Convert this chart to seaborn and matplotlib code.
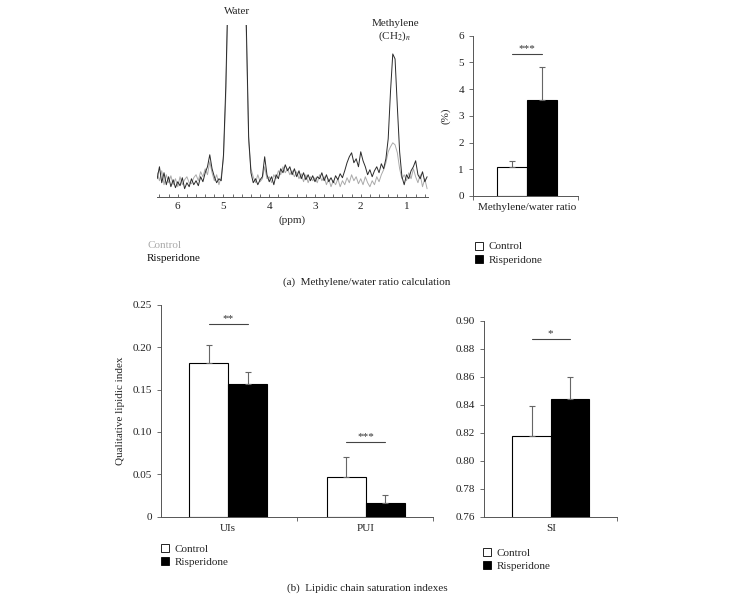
import numpy as np
import pandas as pd
import matplotlib.pyplot as plt
import seaborn as sns
from matplotlib.patches import Patch

sns.set_style("ticks")
plt.rcParams['font.family'] = ['Liberation Serif', 'DejaVu Serif']
plt.rcParams['mathtext.fontset'] = 'stix'
plt.rcParams['font.size'] = 8

groups = ['Control', 'Risperidone']
bar_colors = ['white', 'black']
axis_col = '#555555'
FS = 8

# ── spectrum (ppm vs arbitrary intensity) ───────────────────────────
ppm = [6.45, 6.40, 6.35, 6.30, 6.25, 6.20, 6.15, 6.10, 6.05, 6.00,
       5.95, 5.90, 5.85, 5.80, 5.75, 5.70, 5.65, 5.60, 5.55, 5.50,
       5.45, 5.40, 5.35, 5.30, 5.25, 5.20, 5.15, 5.10, 5.05, 5.00,
       4.95, 4.90, 4.85, 4.80, 4.75, 4.70, 4.65, 4.60, 4.55, 4.50,
       4.45, 4.40, 4.35, 4.30, 4.25, 4.20, 4.15, 4.10, 4.05, 4.00,
       3.95, 3.90, 3.85, 3.80, 3.75, 3.70, 3.65, 3.60, 3.55, 3.50,
       3.45, 3.40, 3.35, 3.30, 3.25, 3.20, 3.15, 3.10, 3.05, 3.00,
       2.95, 2.90, 2.85, 2.80, 2.75, 2.70, 2.65, 2.60, 2.55, 2.50,
       2.45, 2.40, 2.35, 2.30, 2.25, 2.20, 2.15, 2.10, 2.05, 2.00,
       1.95, 1.90, 1.85, 1.80, 1.75, 1.70, 1.65, 1.60, 1.55, 1.50,
       1.45, 1.40, 1.35, 1.30, 1.25, 1.20, 1.15, 1.10, 1.05, 1.00,
       0.95, 0.90, 0.85, 0.80, 0.75, 0.70, 0.65, 0.60, 0.55]
spec_risp = [18, 30, 14, 24, 12, 20, 10, 17, 9, 15,
             11, 19, 8, 14, 10, 18, 12, 16, 11, 20,
             15, 24, 30, 42, 28, 20, 14, 18, 16, 42,
             110, 210, 260, 270, 275, 275, 270, 265, 240, 170,
             60, 24, 14, 18, 12, 17, 20, 40, 22, 15,
             20, 12, 22, 18, 28, 24, 32, 26, 30, 22,
             28, 20, 26, 18, 24, 17, 22, 16, 21, 15,
             20, 18, 24, 16, 22, 15, 19, 14, 21, 17,
             23, 19, 26, 34, 40, 44, 34, 38, 30, 45,
             36, 30, 22, 27, 20, 26, 30, 24, 33, 28,
             38, 58, 105, 143, 138, 90, 45, 20, 12, 22,
             18, 26, 30, 36, 22, 18, 25, 15, 20]
spec_ctrl = [24, 16, 26, 12, 22, 14, 21, 12, 18, 10,
             20, 12, 17, 20, 14, 13, 19, 22, 16, 25,
             20, 28, 22, 35, 24, 16, 22, 12, 20, 38,
             100, 200, 255, 265, 270, 272, 268, 262, 235, 160,
             55, 28, 20, 14, 22, 15, 18, 30, 18, 20,
             14, 22, 18, 26, 22, 30, 24, 28, 22, 26,
             20, 25, 18, 23, 15, 22, 14, 20, 16, 19,
             14, 22, 16, 20, 12, 18, 10, 16, 12, 18,
             10, 16, 12, 19, 14, 22, 16, 20, 13, 18,
             12, 20, 14, 10, 16, 12, 20, 15, 22, 27,
             34, 45, 50, 54, 52, 44, 28, 18, 22, 16,
             24, 18, 28, 20, 14, 22, 10, 18, 8]

# ── methylene/water ratio (%) ───────────────────────────────────
ratio_cat = ['Methylene/water ratio']
ratio_mean = [1.07, 3.58]
ratio_err = [0.23, 1.24]
ratio_sig = [5.33]
ratio_stars = ['***']

# ── lipidic indexes ─────────────────────────────────────────────
idx_cat = ['UIs', 'PUI']
idx_ctrl = [0.181, 0.0465]
idx_risp = [0.156, 0.0165]
idx_ctrl_err = [0.022, 0.0235]
idx_risp_err = [0.015, 0.0095]
idx_sig = [0.227, 0.0885]
idx_stars = ['**', '***']

si_cat = ['SI']
si_mean = [0.8175, 0.8442]
si_err = [0.0215, 0.0155]
si_sig = [0.887]
si_stars = ['*']

W, H = 742, 601
fig = plt.figure(figsize=(W / 100, H / 100), dpi=100)


def px_axes(left, top, right, bottom):
    return fig.add_axes([left / W, 1 - bottom / H, (right - left) / W, (bottom - top) / H])


def style_axes(ax):
    sns.despine(ax=ax)
    for s in ['left', 'bottom']:
        ax.spines[s].set_color(axis_col)
        ax.spines[s].set_linewidth(0.7)
    ax.tick_params(colors=axis_col, labelcolor='#222222', width=0.6, length=3, labelsize=FS)


def bar_panel(ax, cats, ctrl, risp, ctrl_err, risp_err, sig, stars, width):
    df = pd.DataFrame({'cat': cats * 2,
                       'group': [groups[0]] * len(cats) + [groups[1]] * len(cats),
                       'val': list(ctrl) + list(risp)})
    sns.barplot(data=df, x='cat', y='val', hue='group', order=cats, hue_order=groups,
                palette=bar_colors, edgecolor='black', linewidth=0.8, width=width,
                gap=0, errorbar=None, legend=False, ax=ax)
    bars = sorted(ax.patches, key=lambda p: p.get_x())
    # after sorting: ctrl0, risp0, ctrl1, risp1 ...
    errs = []
    for i in range(len(cats)):
        errs += [ctrl_err[i], risp_err[i]]
    xs = [b.get_x() + b.get_width() / 2 for b in bars]
    hs = [b.get_height() for b in bars]
    ax.errorbar(xs, hs, yerr=[np.zeros(len(errs)), errs], fmt='none',
                ecolor='#666666', elinewidth=0.8, capsize=2, capthick=0.8, zorder=3)
    for i in range(len(cats)):
        x0, x1 = xs[2 * i], xs[2 * i + 1]
        ax.plot([x0, x1], [sig[i], sig[i]], color='#444444', lw=0.8)
        ax.annotate(stars[i], ((x0 + x1) / 2, sig[i]), xytext=(0, 0.5),
                    textcoords='offset points', ha='center', va='bottom', fontsize=FS,
                    color='#333333')
    ax.set_xlabel('')
    ax.set_ylabel('')
    style_axes(ax)
    ax.tick_params(axis='x', length=0, pad=5)


def bar_legend(ax, x, y):
    handles = [Patch(facecolor='white', edgecolor='black', linewidth=0.6, label=groups[0]),
               Patch(facecolor='black', edgecolor='black', linewidth=0.6, label=groups[1])]
    ax.legend(handles=handles, loc='upper left', bbox_to_anchor=(x / W, 1 - y / H),
              bbox_transform=fig.transFigure, frameon=False, handlelength=0.75,
              handleheight=0.75, handletextpad=0.5, labelspacing=0.3, borderpad=0,
              borderaxespad=0, fontsize=FS)


# ── (a) spectrum ───────────────────────────────────────────────
ax_s = px_axes(156.7, 25, 428, 196.7)
sns.lineplot(x=ppm, y=spec_ctrl, ax=ax_s, color='#aaaaaa', lw=0.7, estimator=None, sort=False)
sns.lineplot(x=ppm, y=spec_risp, ax=ax_s, color='#2a2a2a', lw=0.7, estimator=None, sort=False)
ax_s.set_xlim(6.46, 0.53)
ax_s.set_ylim(0, 172)
sns.despine(ax=ax_s, left=True)
ax_s.spines['bottom'].set_color(axis_col)
ax_s.spines['bottom'].set_linewidth(0.7)
ax_s.set_yticks([])
ax_s.set_xticks([6, 5, 4, 3, 2, 1])
ax_s.set_xticks(np.arange(0.6, 6.41, 0.2), minor=True)
ax_s.tick_params(axis='x', which='both', direction='in', length=2.5, width=0.6,
                 colors=axis_col, labelcolor='#222222', labelsize=FS, pad=4)
ax_s.set_xlabel('(ppm)', fontsize=FS, labelpad=3)
fig.text(236.7 / W, 1 - 12 / H, 'Water', ha='center', va='center', fontsize=FS)
fig.text(395 / W, 1 - 23 / H, 'Methylene', ha='center', va='center', fontsize=FS)
fig.text(395 / W, 1 - 36 / H, r'(CH$_2$)$_n$', ha='center', va='center', fontsize=FS)
fig.text(147 / W, 1 - 245 / H, 'Control', color='#aaaaaa', ha='left', va='center', fontsize=FS)
fig.text(147 / W, 1 - 258 / H, 'Risperidone', color='#111111', ha='left', va='center', fontsize=FS)

# ── (a) ratio bars ─────────────────────────────────────────────
ax_r = px_axes(473, 35.7, 578, 196)
bar_panel(ax_r, ratio_cat, ratio_mean[:1], ratio_mean[1:], ratio_err[:1], ratio_err[1:],
          ratio_sig, ratio_stars, 0.8)
ax_r.set_xlim(-0.716, 0.684)
ax_r.set_ylim(0, 6)
ax_r.set_yticks(range(0, 7))
ax_r.set_xticks([-0.716, 0.684], minor=True)
ax_r.tick_params(axis='x', which='minor', length=3, width=0.6, colors=axis_col)
ax_r.set_ylabel('(%)', fontsize=FS, labelpad=6)
bar_legend(ax_r, 475, 241.5)

fig.text(367 / W, 1 - 282 / H, '(a)  Methylene/water ratio calculation',
         ha='center', va='center', fontsize=FS, color='#222222')

# ── (b) UIs / PUI ──────────────────────────────────────────────
ax_i = px_axes(160.7, 304.7, 433.3, 516.7)
bar_panel(ax_i, idx_cat, idx_ctrl, idx_risp, idx_ctrl_err, idx_risp_err,
          idx_sig, idx_stars, 0.57)
ax_i.set_xlim(-0.49, 1.49)
ax_i.set_ylim(0, 0.25)
ax_i.set_yticks([0, 0.05, 0.10, 0.15, 0.20, 0.25])
ax_i.set_yticklabels(['0', '0.05', '0.10', '0.15', '0.20', '0.25'])
ax_i.set_xticks([0.5, 1.49], minor=True)
ax_i.tick_params(axis='x', which='minor', length=3, width=0.6, colors=axis_col)
ax_i.set_ylabel('Qualitative lipidic index', fontsize=FS, labelpad=5)
bar_legend(ax_i, 160.7, 544)

# ── (b) SI ─────────────────────────────────────────────────────
ax_si = px_axes(484, 321, 617.3, 516.7)
bar_panel(ax_si, si_cat, si_mean[:1], si_mean[1:], si_err[:1], si_err[1:],
          si_sig, si_stars, 0.8)
ax_si.set_xlim(-0.695, 0.694)
ax_si.set_ylim(0.76, 0.90)
ax_si.set_yticks(np.arange(0.76, 0.901, 0.02))
ax_si.set_yticklabels([f'{v:.2f}' for v in np.arange(0.76, 0.901, 0.02)])
ax_si.set_xticks([0.694], minor=True)
ax_si.tick_params(axis='x', which='minor', length=3, width=0.6, colors=axis_col)
bar_legend(ax_si, 482.7, 547.7)

fig.text(367.5 / W, 1 - 588 / H, '(b)  Lipidic chain saturation indexes',
         ha='center', va='center', fontsize=FS, color='#222222')

fig.savefig('out.png', dpi=100)
